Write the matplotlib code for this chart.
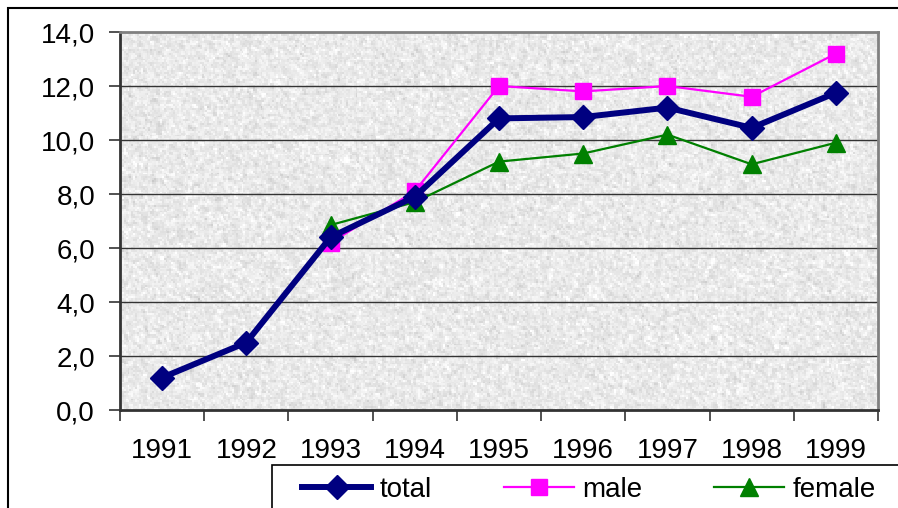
import numpy as np
import matplotlib.pyplot as plt
from matplotlib.patches import Rectangle

plt.rcParams['font.family'] = ['Liberation Sans', 'DejaVu Sans']

years = ['1991', '1992', '1993', '1994', '1995', '1996', '1997', '1998', '1999']
total = [1.2, 2.5, 6.4, 7.9, 10.8, 10.85, 11.2, 10.45, 11.75]
male = [np.nan, np.nan, 6.2, 8.1, 12.0, 11.8, 12.0, 11.6, 13.2]
female = [np.nan, np.nan, 6.85, 7.7, 9.2, 9.5, 10.2, 9.1, 9.9]

W, H = 898, 508
fig = plt.figure(figsize=(W / 100, H / 100), dpi=100)
fig.patch.set_facecolor('white')

# outer chart border (runs off the right and bottom edges)
fig.patches.append(Rectangle((8 / W, -0.1), 1.2, 1 - 8 / H + 0.1, transform=fig.transFigure,
                             fill=False, edgecolor='black', linewidth=1.5))

ax = fig.add_axes([120 / W, 1 - 410 / H, 758 / W, 378 / H])

# granite-like grey fill of the plot area
rng = np.random.default_rng(7)
noise = rng.normal(size=(200, 400))
smooth = (noise[:-1, :-1] + noise[1:, :-1] + noise[:-1, 1:] + noise[1:, 1:]) / 4
tex = 0.915 + 0.04 * smooth + 0.018 * noise[:-1, :-1]
ax.imshow(tex, cmap='gray', vmin=0, vmax=1, extent=(-0.5, 8.5, 0, 14),
          aspect='auto', interpolation='nearest', zorder=0)

x = np.arange(len(years))
ax.plot(x, total, color='#000080', lw=4.3, marker='D', ms=12, mec='#000080',
        label='total', zorder=5)
ax.plot(x, male, color='#FF00FF', lw=1.6, marker='s', ms=12, mec='#FF00FF',
        label='male', zorder=4)
ax.plot(x, female, color='#008000', lw=1.6, marker='^', ms=13, mec='#008000',
        label='female', zorder=4)

ax.set_xlim(-0.5, 8.5)
ax.set_ylim(0, 14)
ax.set_yticks(np.arange(0, 15, 2))
ax.set_yticklabels([f'{v:.1f}'.replace('.', ',') for v in np.arange(0, 15, 2)])
ax.set_xticks(x)
ax.set_xticklabels(years)
ax.set_xticks(np.arange(-0.5, 9, 1), minor=True)
ax.tick_params(axis='x', which='major', length=0, pad=20, labelsize=20)
ax.tick_params(axis='x', which='minor', length=8, width=1.2, color='#333333')
ax.tick_params(axis='y', length=8, width=1.2, color='#333333', pad=10, labelsize=20)

for v in range(2, 14, 2):
    ax.axhline(v, color='#333333', lw=1, zorder=1)

for side in ['left', 'bottom']:
    ax.spines[side].set_color('#333333')
    ax.spines[side].set_linewidth(2)
for side in ['top', 'right']:
    ax.spines[side].set_color('#808080')
    ax.spines[side].set_linewidth(2)

# legend box (cut off by the figure edge)
fig.patches.append(Rectangle((272 / W, -0.1), 1.0, 0.1 + 1 - 465 / H, transform=fig.transFigure,
                             fill=False, edgecolor='black', linewidth=1.2))
fig.legend(loc='center left', bbox_to_anchor=(302 / W, 1 - 490 / H), ncol=3, frameon=False,
           fontsize=20, handlelength=2.5, handletextpad=0.3, columnspacing=2.6,
           borderaxespad=0, borderpad=0)

fig.savefig('out.png', dpi=100)
